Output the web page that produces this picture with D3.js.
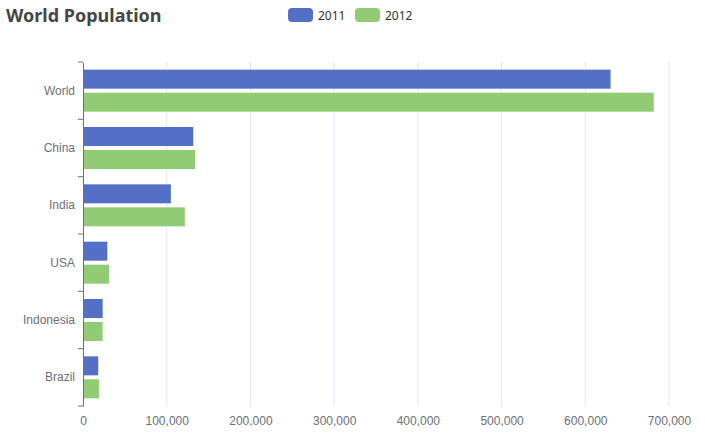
<!DOCTYPE html>
<html>
<head>
<meta charset="utf-8">
<script src="https://cdn.jsdelivr.net/npm/d3@7"></script>
<style>
  body { margin: 0; background: #fff; }
  svg { font-family: "Noto Sans", "Open Sans", sans-serif; }
</style>
</head>
<body>
<svg width="705" height="441"></svg>
<script>
// -------------------- DATA --------------------
const categories = ["Brazil", "Indonesia", "USA", "India", "China", "World"];
const seriesNames = ["2011", "2012"];
const values2011 = [18203, 23489, 29034, 104970, 131744, 630230];
const values2012 = [19325, 23438, 31000, 121594, 134141, 681807];
const xTicks = [0, 100000, 200000, 300000, 400000, 500000, 600000, 700000];
const colors = ["#5470c6", "#91cc75"];

// -------------------- LAYOUT --------------------
const svg = d3.select("svg");
const margin = { left: 83, right: 36, top: 62, bottom: 35 };
const width = 705 - margin.left - margin.right;
const height = 441 - margin.top - margin.bottom;
const g = svg.append("g").attr("transform", `translate(${margin.left},${margin.top})`);

const x = d3.scaleLinear().domain([0, 700000]).range([0, width]);
// World on top
const y = d3.scaleBand().domain(categories.slice().reverse()).range([0, height]);
const barH = 19, barGap = 4;
const groupH = barH * 2 + barGap;
const sub = d3.scaleOrdinal().domain(seriesNames).range([0, barH + barGap]);

// -------------------- GRID --------------------
g.append("g").selectAll("line")
  .data(xTicks.slice(1))
  .enter().append("line")
  .attr("x1", d => x(d)).attr("x2", d => x(d))
  .attr("y1", 0).attr("y2", height)
  .attr("stroke", "#e0e6f1");

// -------------------- BARS --------------------
const seriesData = [values2011, values2012];
seriesData.forEach((vals, si) => {
  g.append("g").selectAll("rect")
    .data(categories.map((c, i) => ({ c, v: vals[i] })))
    .enter().append("rect")
    .attr("x", 0)
    .attr("y", d => y(d.c) + (y.bandwidth() - groupH) / 2 + sub(seriesNames[si]))
    .attr("width", d => x(d.v))
    .attr("height", barH)
    .attr("fill", colors[si]);
});

// -------------------- AXES --------------------
const yAxis = g.append("g").call(d3.axisLeft(y).tickSize(0).tickPadding(8).tickSizeOuter(0));
yAxis.select(".domain").attr("stroke", "#6e7079");
yAxis.selectAll("text").attr("fill", "#6e7079").style("font-size", "12px");
// category boundary ticks
g.append("g").selectAll("line")
  .data(d3.range(categories.length + 1))
  .enter().append("line")
  .attr("x1", -5).attr("x2", 0)
  .attr("y1", d => d * y.step()).attr("y2", d => d * y.step())
  .attr("stroke", "#6e7079");

const xAxis = g.append("g").attr("transform", `translate(0,${height})`)
  .call(d3.axisBottom(x).tickValues(xTicks).tickSize(0).tickPadding(10).tickFormat(d3.format(",")));
xAxis.select(".domain").remove();
xAxis.selectAll("text").attr("fill", "#6e7079").style("font-size", "12px");

// -------------------- TITLE --------------------
svg.append("text")
  .attr("x", 6).attr("y", 22)
  .attr("fill", "#464646")
  .style("font-size", "18px")
  .style("font-weight", "bold")
  .text("World Population");

// -------------------- LEGEND --------------------
const legendX = [288, 355];
seriesNames.forEach((name, i) => {
  svg.append("rect")
    .attr("x", legendX[i]).attr("y", 8)
    .attr("width", 25).attr("height", 14).attr("rx", 4)
    .attr("fill", colors[i]);
  svg.append("text")
    .attr("x", legendX[i] + 30).attr("y", 19.5)
    .attr("fill", "#333")
    .style("font-size", "12px")
    .text(name);
});
</script>
</body>
</html>
